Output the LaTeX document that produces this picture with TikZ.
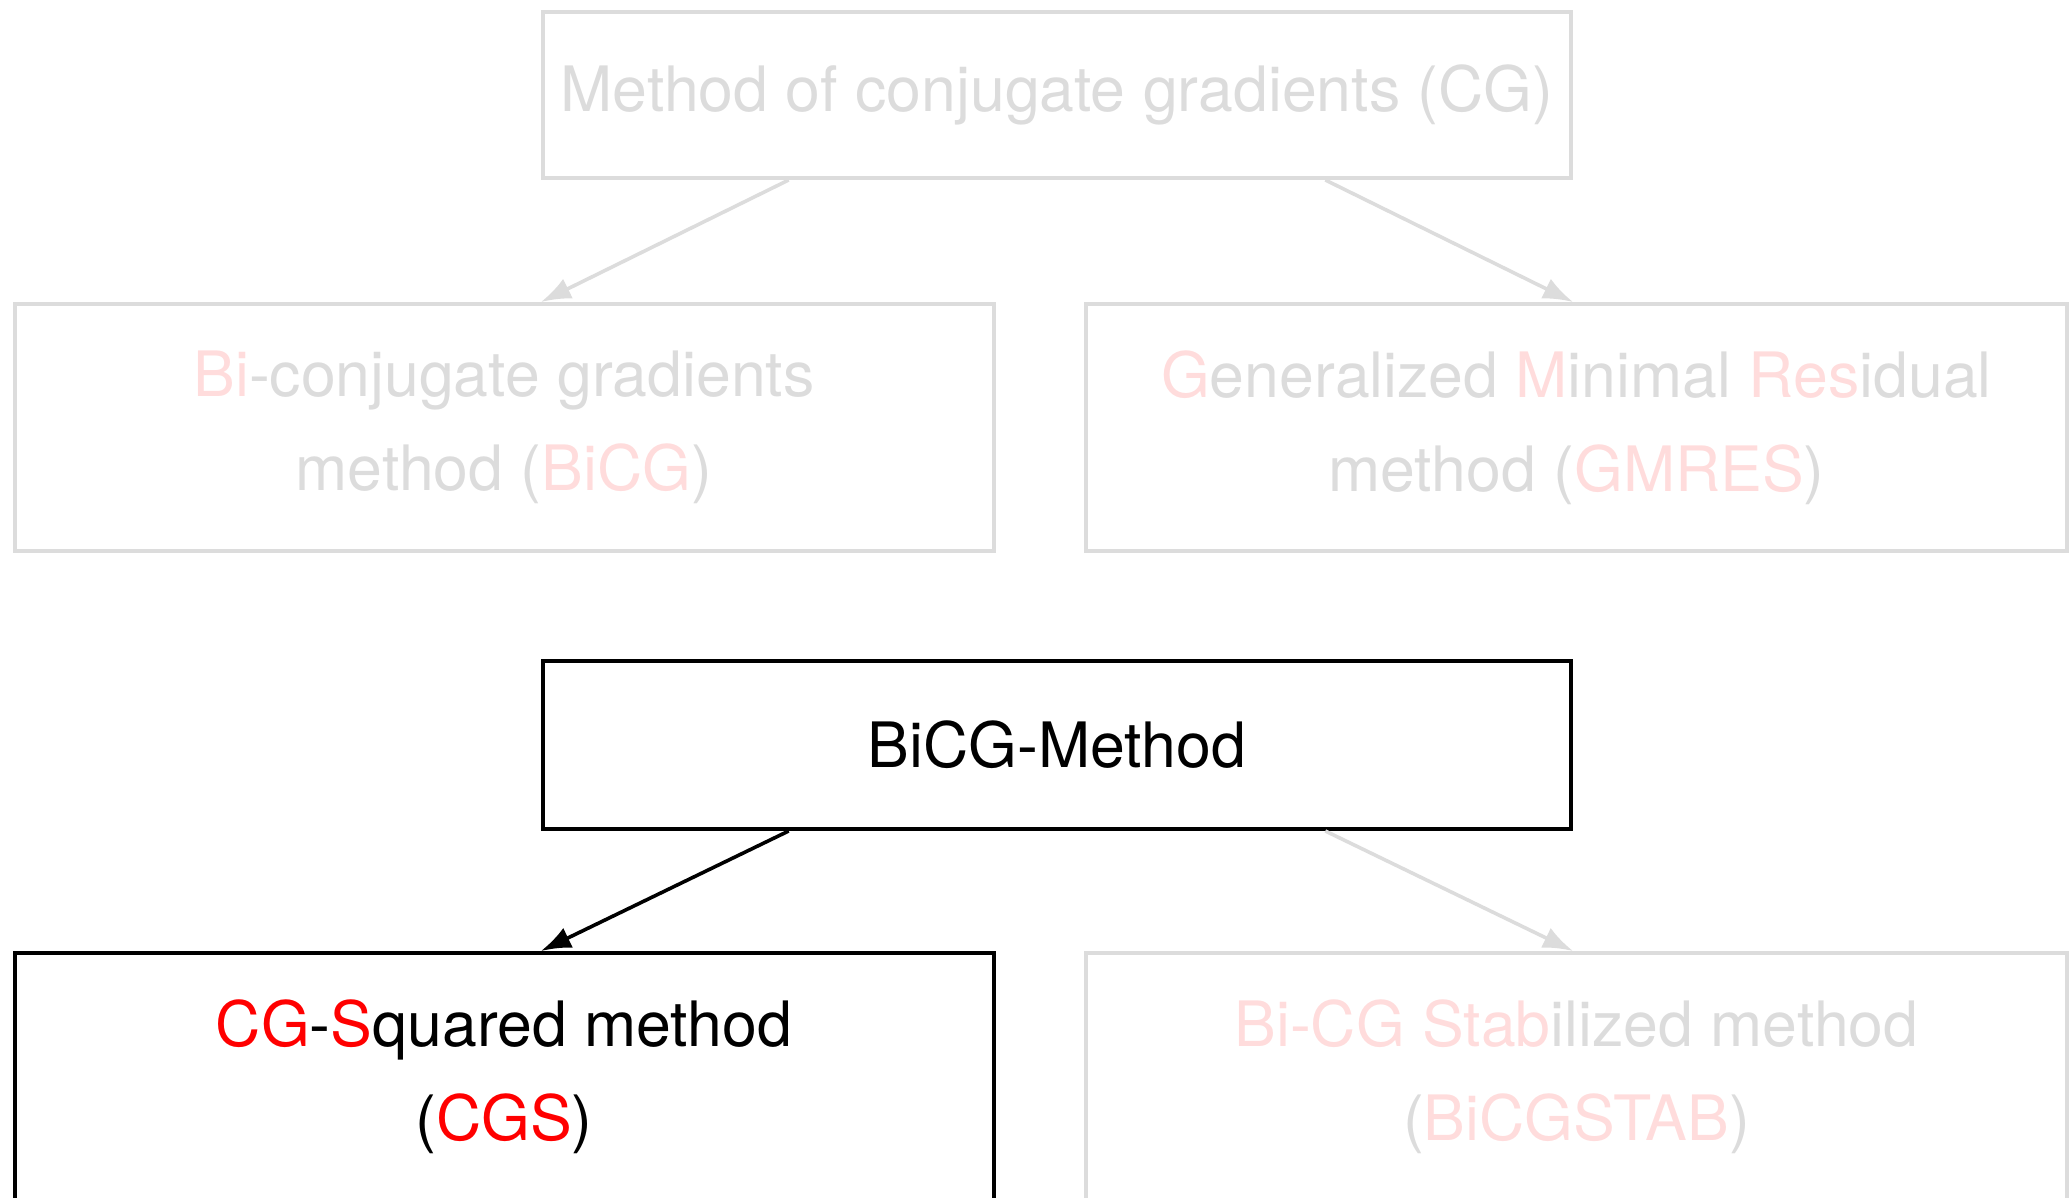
\documentclass[tikz,border=0pt]{standalone}
\usepackage{fontspec}
\setmainfont{TeX Gyre Heros}
\usetikzlibrary{arrows.meta,calc}
\definecolor{lg}{RGB}{220,220,220}
\definecolor{lp}{RGB}{255,220,220}
\definecolor{rd}{RGB}{255,0,0}
\tikzset{
  box/.style={draw, line width=2pt, rectangle, align=center, inner sep=0pt,
    font=\fontsize{31.3}{47}\selectfont},
  faded/.style={box, draw=lg, text=lg},
  active/.style={box, draw=black, text=black},
  con/.style={line width=1.8pt, -{Latex[length=15pt,width=11pt]}},
}
\begin{document}
\begin{tikzpicture}[x=0.5pt,y=-0.5pt]
\useasboundingbox (0,0) rectangle (2072,1198);
\node[faded, minimum width=514pt, minimum height=83pt] (cg) at (1057,95) {Method of conjugate gradients (CG)};
\node[faded, minimum width=489.5pt, minimum height=123.5pt] (bicg) at (504,427.5)
  {\textcolor{lp}{Bi}-conjugate gradients\\method (\textcolor{lp}{BiCG})};
\node[faded, minimum width=490.5pt, minimum height=123.5pt] (gmres) at (1576.5,427.5)
  {\textcolor{lp}{G}eneralized \textcolor{lp}{M}inimal \textcolor{lp}{Res}idual\\method (\textcolor{lp}{GMRES})};
\node[active, minimum width=514pt, minimum height=84pt] (bm) at (1057,745) {BiCG-Method};
\node[active, minimum width=489.5pt, minimum height=123.5pt] (cgs) at (504,1076.5)
  {\textcolor{rd}{CG}-\textcolor{rd}{S}quared method\\(\textcolor{rd}{CGS})};
\node[faded, minimum width=490.5pt, minimum height=123.5pt] (stab) at (1576.5,1076.5)
  {\textcolor{lp}{Bi-CG Stab}ilized method\\(\textcolor{lp}{BiCGSTAB})};
\draw[con, lg] ($(cg.south west)!0.24!(cg.south east)$) -- (cg.south west |- bicg.north);
\draw[con, lg] ($(cg.south west)!0.76!(cg.south east)$) -- (cg.south east |- gmres.north);
\draw[con, black] ($(bm.south west)!0.24!(bm.south east)$) -- (bm.south west |- cgs.north);
\draw[con, lg] ($(bm.south west)!0.76!(bm.south east)$) -- (bm.south east |- stab.north);
\end{tikzpicture}
\end{document}
